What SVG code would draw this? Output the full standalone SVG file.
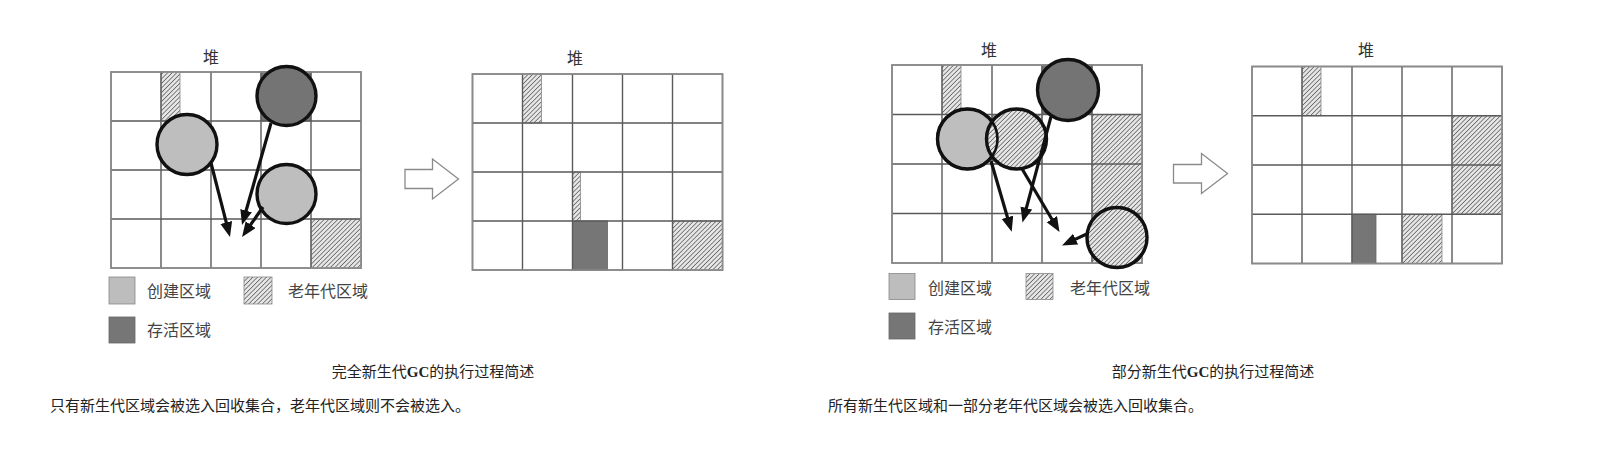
<svg xmlns="http://www.w3.org/2000/svg" width="1600" height="450" viewBox="0 0 1600 450">
<style>
.t{font-family:"Liberation Serif","Noto Sans CJK SC",serif;fill:#333}
.title{font-size:16px;text-anchor:middle}
.leg{font-size:16px;fill:#444}
.cap{font-size:15px;text-anchor:middle;fill:#222}
.desc{font-size:15px;fill:#222}
.outer{fill:#fff;stroke:#8a8a8a;stroke-width:1.6}
.inner{fill:none;stroke:#5a5a5a;stroke-width:1.4}
.h{fill:url(#hatch);stroke:#888;stroke-width:0.8}
.d{fill:#767676;stroke:#666;stroke-width:0.8}
.lt{fill:#bdbdbd;stroke:#888;stroke-width:0.8}
.cd{fill:#747474;stroke:#111;stroke-width:3.4}
.cl{fill:#bebebe;stroke:#111;stroke-width:3.4}
.ch{fill:url(#hatch);stroke:#111;stroke-width:3.4}
.cs{fill:none;stroke:#111;stroke-width:2.6}
.arr{fill:none;stroke:#111;stroke-width:3.2;marker-end:url(#ah)}
.big{fill:#fff;stroke:#8a8a8a;stroke-width:1.3}
</style>
<defs>
<pattern id="hatch" patternUnits="userSpaceOnUse" width="3.2" height="3.2" patternTransform="rotate(45)">
<rect width="3.2" height="3.2" fill="#e6e6e6"/>
<line x1="0" y1="0" x2="0" y2="3.2" stroke="#5e5e5e" stroke-width="1.5"/>
</pattern>
<marker id="ah" markerUnits="userSpaceOnUse" markerWidth="18" markerHeight="14" refX="3" refY="6" orient="auto">
<path d="M0,0 L15,6 L0,12 z" fill="#111"/>
</marker>
</defs>
<rect width="1600" height="450" fill="#fff"/>

<!-- Heap 1 -->
<g id="heap1">
<text class="t title" x="211" y="63">堆</text>
<rect class="outer" x="111" y="72" width="250" height="196"/>
<rect class="h" x="161" y="72" width="19" height="49"/>
<rect class="d" x="261" y="72" width="50" height="49"/>
<rect class="h" x="311" y="219" width="50" height="49"/>
<path class="inner" d="M161,72V268M211,72V268M261,72V268M311,72V268M111,121H361M111,170H361M111,219H361"/>
<rect x="111" y="72" width="250" height="196" fill="none" stroke="#8a8a8a" stroke-width="1.6"/>
</g>
<g id="h1-survivor"><circle class="cd" cx="286.5" cy="96" r="29.5"/></g>
<g id="h1-eden-a"><circle class="cl" cx="187" cy="144.5" r="30"/></g>
<g id="h1-eden-b"><circle class="cl" cx="286.5" cy="194" r="29.5"/></g>

<!-- Heap 2 -->
<g id="heap2">
<text class="t title" x="575" y="64">堆</text>
<rect class="outer" x="472.5" y="74" width="250" height="196"/>
<rect class="h" x="522.5" y="74" width="19" height="49"/>
<rect class="h" x="572.5" y="172" width="8" height="49"/>
<rect class="d" x="572.5" y="221" width="35" height="49"/>
<rect class="h" x="672.5" y="221" width="50" height="49"/>
<path class="inner" d="M522.5,74V270M572.5,74V270M622.5,74V270M672.5,74V270M472.5,123H722.5M472.5,172H722.5M472.5,221H722.5"/>
<rect x="472.5" y="74" width="250" height="196" fill="none" stroke="#8a8a8a" stroke-width="1.6"/>
</g>

<!-- Heap 3 -->
<g id="heap3">
<text class="t title" x="989" y="56">堆</text>
<rect class="outer" x="892" y="65" width="250" height="198"/>
<rect class="h" x="942" y="65" width="19" height="49.5"/>
<rect class="d" x="1042" y="65" width="50" height="49.5"/>
<rect class="h" x="992" y="114.5" width="50" height="49.5"/>
<rect class="h" x="1092" y="114.5" width="50" height="148.5"/>
<path class="inner" d="M942,65V263M992,65V263M1042,65V263M1092,65V263M892,114.5H1142M892,164H1142M892,213.5H1142"/>
<rect x="892" y="65" width="250" height="198" fill="none" stroke="#8a8a8a" stroke-width="1.6"/>
</g>
<g id="h3-survivor"><circle class="cd" cx="1068" cy="90" r="30.5"/></g>
<g id="h3-eden"><circle class="cl" cx="967.5" cy="139" r="30"/></g>
<g id="h3-old-a"><circle class="ch" cx="1016.5" cy="139" r="30"/><circle class="cs" cx="967.5" cy="139" r="30"/></g>
<g id="h3-old-b"><circle class="ch" cx="1117" cy="237.5" r="30"/></g>

<!-- Heap 4 -->
<g id="heap4">
<text class="t title" x="1366" y="56">堆</text>
<rect class="outer" x="1252" y="66.5" width="250" height="197"/>
<rect class="h" x="1302" y="66.5" width="19" height="49.25"/>
<rect class="h" x="1452" y="115.75" width="50" height="98.5"/>
<rect class="d" x="1352" y="214.25" width="24" height="49.25"/>
<rect class="h" x="1402" y="214.25" width="40" height="49.25"/>
<path class="inner" d="M1302,66.5V263.5M1352,66.5V263.5M1402,66.5V263.5M1452,66.5V263.5M1252,115.75H1502M1252,165H1502M1252,214.25H1502"/>
<rect x="1252" y="66.5" width="250" height="197" fill="none" stroke="#8a8a8a" stroke-width="1.6"/>
</g>

<!-- connectors -->
<g id="connectors">
<line class="arr" x1="211" y1="163" x2="227" y2="225.4"/>
<line class="arr" x1="271" y1="123" x2="245.3" y2="213.5"/>
<line class="arr" x1="263" y1="207" x2="248.9" y2="227.2"/>
<line class="arr" x1="991" y1="161" x2="1008.3" y2="220.2"/>
<line class="arr" x1="1051" y1="116.7" x2="1025.6" y2="210.9"/>
<line class="arr" x1="1021.7" y1="168.3" x2="1053.4" y2="221.7"/>
<line class="arr" x1="1088.3" y1="233.3" x2="1072.9" y2="240.4"/>
<polygon class="big" points="405,169.5 432.5,169.5 432.5,159 458.5,179 432.5,199 432.5,188.5 405,188.5"/>
<polygon class="big" points="1173.5,164.5 1201.5,164.5 1201.5,153.5 1227.5,173.5 1201.5,193.5 1201.5,183 1173.5,183"/>
</g>

<!-- Legends -->
<g id="legend1">
<rect class="lt" x="109" y="277" width="26" height="27"/>
<text class="t leg" x="147" y="297">创建区域</text>
<rect class="h" x="244" y="277" width="28" height="27"/>
<text class="t leg" x="288" y="297">老年代区域</text>
<rect class="d" x="109" y="317" width="26" height="26"/>
<text class="t leg" x="147" y="336">存活区域</text>
</g>
<g id="legend2">
<rect class="lt" x="889" y="273.5" width="26" height="26"/>
<text class="t leg" x="928" y="294">创建区域</text>
<rect class="h" x="1026" y="273.5" width="27" height="26"/>
<text class="t leg" x="1070" y="294">老年代区域</text>
<rect class="d" x="889" y="313" width="26" height="26"/>
<text class="t leg" x="928" y="333">存活区域</text>
</g>

<!-- Captions -->
<g id="caption1">
<text class="t cap" x="433" y="377">完全新生代<tspan font-weight="bold">GC</tspan>的执行过程简述</text>
<text class="t desc" x="50" y="411">只有新生代区域会被选入回收集合，老年代区域则不会被选入。</text>
</g>
<g id="caption2">
<text class="t cap" x="1213" y="377">部分新生代<tspan font-weight="bold">GC</tspan>的执行过程简述</text>
<text class="t desc" x="828" y="411">所有新生代区域和一部分老年代区域会被选入回收集合。</text>
</g>
</svg>
